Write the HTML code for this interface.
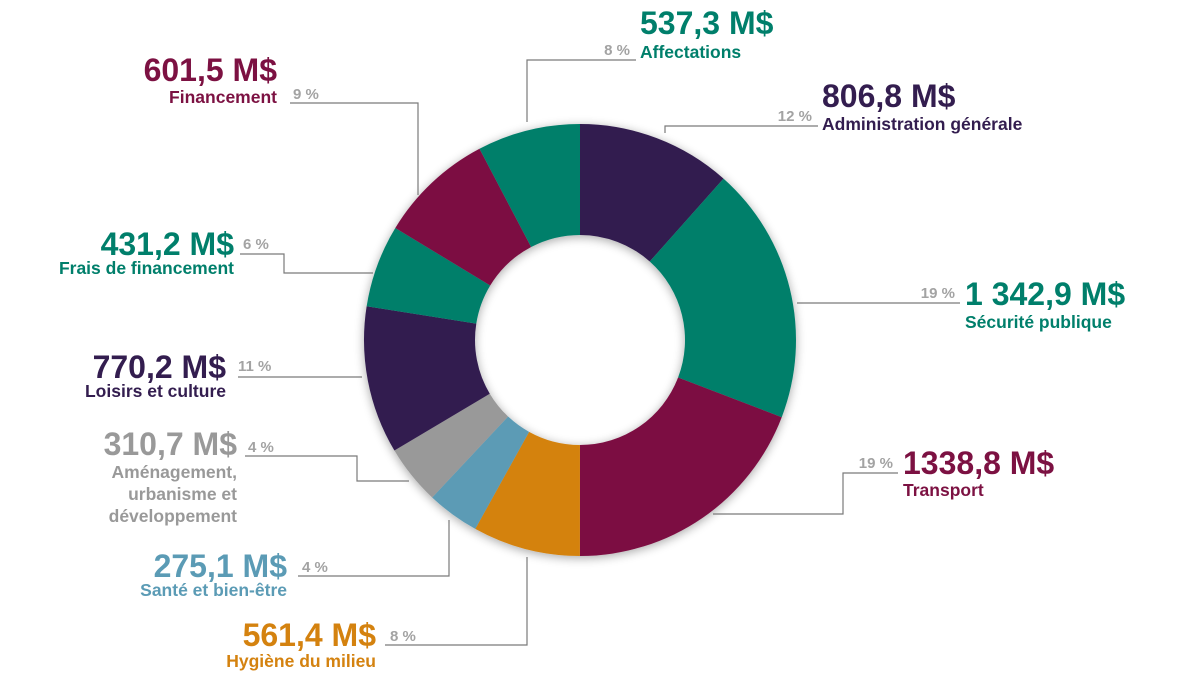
<!DOCTYPE html>
<html>
<head>
<meta charset="utf-8">
<style>
  html,body{margin:0;padding:0;background:#fff;}
  svg{display:block;}
  text{font-family:"Liberation Sans",sans-serif;font-weight:bold;}
  .val{font-size:32px;}
  .sub{font-size:17.5px;}
  .pct{font-size:15px;fill:#a3a3a3;}
  .lead{fill:none;stroke:#7a7a7a;stroke-width:1.2;}
</style>
</head>
<body>
<svg id="chart" width="1200" height="675" viewBox="0 0 1200 675" xmlns="http://www.w3.org/2000/svg">
  <defs>
    <filter id="shadow" x="-20%" y="-20%" width="140%" height="140%">
      <feGaussianBlur in="SourceAlpha" stdDeviation="5"/>
      <feOffset dx="0" dy="2" result="b"/>
      <feComponentTransfer><feFuncA type="linear" slope="0.35"/></feComponentTransfer>
      <feMerge><feMergeNode/><feMergeNode in="SourceGraphic"/></feMerge>
    </filter>
  </defs>
  <g id="slices" filter="url(#shadow)"></g>
  <g id="labels"></g>
</svg>
<script>
const categories = ["Administration générale","Sécurité publique","Transport","Hygiène du milieu","Santé et bien-être","Aménagement, urbanisme et développement","Loisirs et culture","Frais de financement","Financement","Affectations"];
const values = [806.8,1342.9,1338.8,561.4,275.1,310.7,770.2,431.2,601.5,537.3];
const valueLabels = ["806,8 M$","1 342,9 M$","1338,8 M$","561,4 M$","275,1 M$","310,7 M$","770,2 M$","431,2 M$","601,5 M$","537,3 M$"];
const percentLabels = ["12 %","19 %","19 %","8 %","4 %","4 %","11 %","6 %","9 %","8 %"];
const colors = ["#331d4f","#007f6b","#7c1142","#d4820f","#5b9bb5","#999999","#331d4f","#007f6b","#7c1142","#007f6b"];
const subLines = [["Administration générale"],["Sécurité publique"],["Transport"],["Hygiène du milieu"],["Santé et bien-être"],["Aménagement,","urbanisme et","développement"],["Loisirs et culture"],["Frais de financement"],["Financement"],["Affectations"]];

const NS="http://www.w3.org/2000/svg";
const cx=580, cy=340, R=216, r=105;
const total=values.reduce((a,b)=>a+b,0);
function angle(v){return v/total*Math.PI*2;}
function pt(a,rad){return [cx+rad*Math.sin(a), cy-rad*Math.cos(a)];}

const sg=document.getElementById('slices');
let acc=0;
values.forEach((v,i)=>{
  const a0=angle(acc), a1=angle(acc+v); acc+=v;
  const large=(a1-a0)>Math.PI?1:0;
  const p0=pt(a0,R),p1=pt(a1,R),q1=pt(a1,r),q0=pt(a0,r);
  const d=`M${p0[0]},${p0[1]} A${R},${R} 0 ${large} 1 ${p1[0]},${p1[1]} L${q1[0]},${q1[1]} A${r},${r} 0 ${large} 0 ${q0[0]},${q0[1]} Z`;
  const path=document.createElementNS(NS,'path');
  path.setAttribute('d',d);
  path.setAttribute('fill',colors[i]);
  
  
  sg.appendChild(path);
});

// label layout (positions only)
const layout=[
 {x:822,anchor:"start",vy:107,sy:130,px:812,py:121,lead:"665,133 665,126 818,126"},
 {x:965,anchor:"start",vy:305,sy:328,px:955,py:298,lead:"797,303 960,303"},
 {x:903,anchor:"start",vy:474,sy:496,px:893,py:468,lead:"713,514 843,514 843,473 898,473"},
 {x:376,anchor:"end",vy:646,sy:667,px:390,py:641,lead:"527,557 527,645 385,645"},
 {x:287,anchor:"end",vy:577,sy:596,px:302,py:572,lead:"449,520 449,576 298,576"},
 {x:237,anchor:"end",vy:455,sy:478,px:248,py:452,lead:"409,481 357,481 357,456 245,456"},
 {x:226,anchor:"end",vy:378,sy:397,px:238,py:371,lead:"362,377 238,377"},
 {x:234,anchor:"end",vy:255,sy:274,px:243,py:249,lead:"373,273 284,273 284,254 240,254"},
 {x:277,anchor:"end",vy:81,sy:103,px:293,py:99,lead:"418,195 418,103 290,103"},
 {x:640,anchor:"start",vy:34,sy:58,px:630,py:55,lead:"527,122 527,60 636,60"}
];
const lg=document.getElementById('labels');
layout.forEach((L,i)=>{
  const g=document.createElementNS(NS,'g');
  
  
  const pl=document.createElementNS(NS,'polyline');
  pl.setAttribute('points',L.lead);pl.setAttribute('class','lead');
  
  
  g.appendChild(pl);
  const tv=document.createElementNS(NS,'text');
  tv.setAttribute('x',L.x);tv.setAttribute('y',L.vy);tv.setAttribute('text-anchor',L.anchor);
  tv.setAttribute('class','val');tv.setAttribute('fill',colors[i]);
  
  
  tv.textContent=valueLabels[i];g.appendChild(tv);
  subLines[i].forEach((s,k)=>{
    const ts=document.createElementNS(NS,'text');
    ts.setAttribute('x',L.x);ts.setAttribute('y',L.sy+k*22);ts.setAttribute('text-anchor',L.anchor);
    ts.setAttribute('class','sub');ts.setAttribute('fill',colors[i]);
    
    
    ts.textContent=s;g.appendChild(ts);
  });
  const tp=document.createElementNS(NS,'text');
  tp.setAttribute('x',L.px);tp.setAttribute('y',L.py);
  tp.setAttribute('text-anchor',L.anchor==="start"?"end":"start");
  tp.setAttribute('class','pct');
  
  
  tp.textContent=percentLabels[i];g.appendChild(tp);
  lg.appendChild(g);
});
</script>
</body>
</html>
